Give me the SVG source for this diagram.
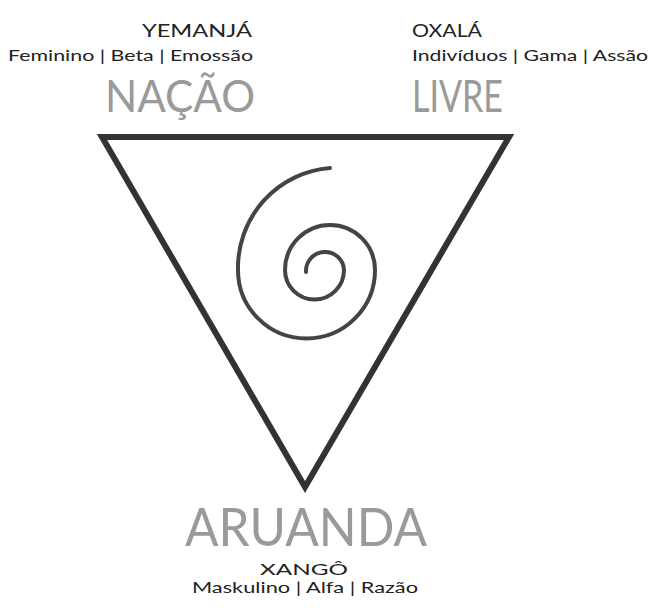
<svg xmlns="http://www.w3.org/2000/svg" width="654" height="608" viewBox="0 0 654 608">
<style>
.lbl{font-family:Lato,"Liberation Sans",sans-serif;fill:#222;}
.big{font-family:Lato,"Liberation Sans",sans-serif;fill:#9a9a9a;}
.line{fill:none;stroke:#333;stroke-width:6;stroke-linejoin:miter;stroke-miterlimit:10;}
.spiral{fill:none;stroke:#444;stroke-width:4;stroke-linecap:round;}
</style>
<rect width="654" height="608" fill="#fff"/>
<g id="connectors">
<polygon class="line" points="102,137 509,137 305,487"/>
</g>
<g id="spiral">
<path class="spiral" d="M306 272 A19 19 0 0 1 344 270 A29.5 29.5 0 0 1 285 270 A45 45 0 0 1 375 270 A68.5 68.5 0 0 1 238 270 A100 100 0 0 1 330 168"/>
</g>
<g id="node-nacao">
<text class="lbl" x="142" y="37" font-size="17" textLength="110" lengthAdjust="spacingAndGlyphs">YEMANJÁ</text>
<text class="lbl" x="8" y="61" font-size="15" textLength="245" lengthAdjust="spacingAndGlyphs">Feminino | Beta | Emossão</text>
<text class="big" x="105" y="112" font-size="44" textLength="150" lengthAdjust="spacingAndGlyphs">NAÇÃO</text>
</g>
<g id="node-livre">
<text class="lbl" x="412" y="37" font-size="17" textLength="70" lengthAdjust="spacingAndGlyphs">OXALÁ</text>
<text class="lbl" x="412" y="61" font-size="15" textLength="236" lengthAdjust="spacingAndGlyphs">Indivíduos | Gama | Assão</text>
<text class="big" x="412" y="112" font-size="44" textLength="91" lengthAdjust="spacingAndGlyphs">LIVRE</text>
</g>
<g id="node-aruanda">
<text class="big" x="185" y="546" font-size="52" textLength="242" lengthAdjust="spacingAndGlyphs">ARUANDA</text>
<text class="lbl" x="260" y="575" font-size="16" textLength="88" lengthAdjust="spacingAndGlyphs">XANGÔ</text>
<text class="lbl" x="192" y="593" font-size="15" textLength="226" lengthAdjust="spacingAndGlyphs">Maskulino | Alfa | Razão</text>
</g>
</svg>
